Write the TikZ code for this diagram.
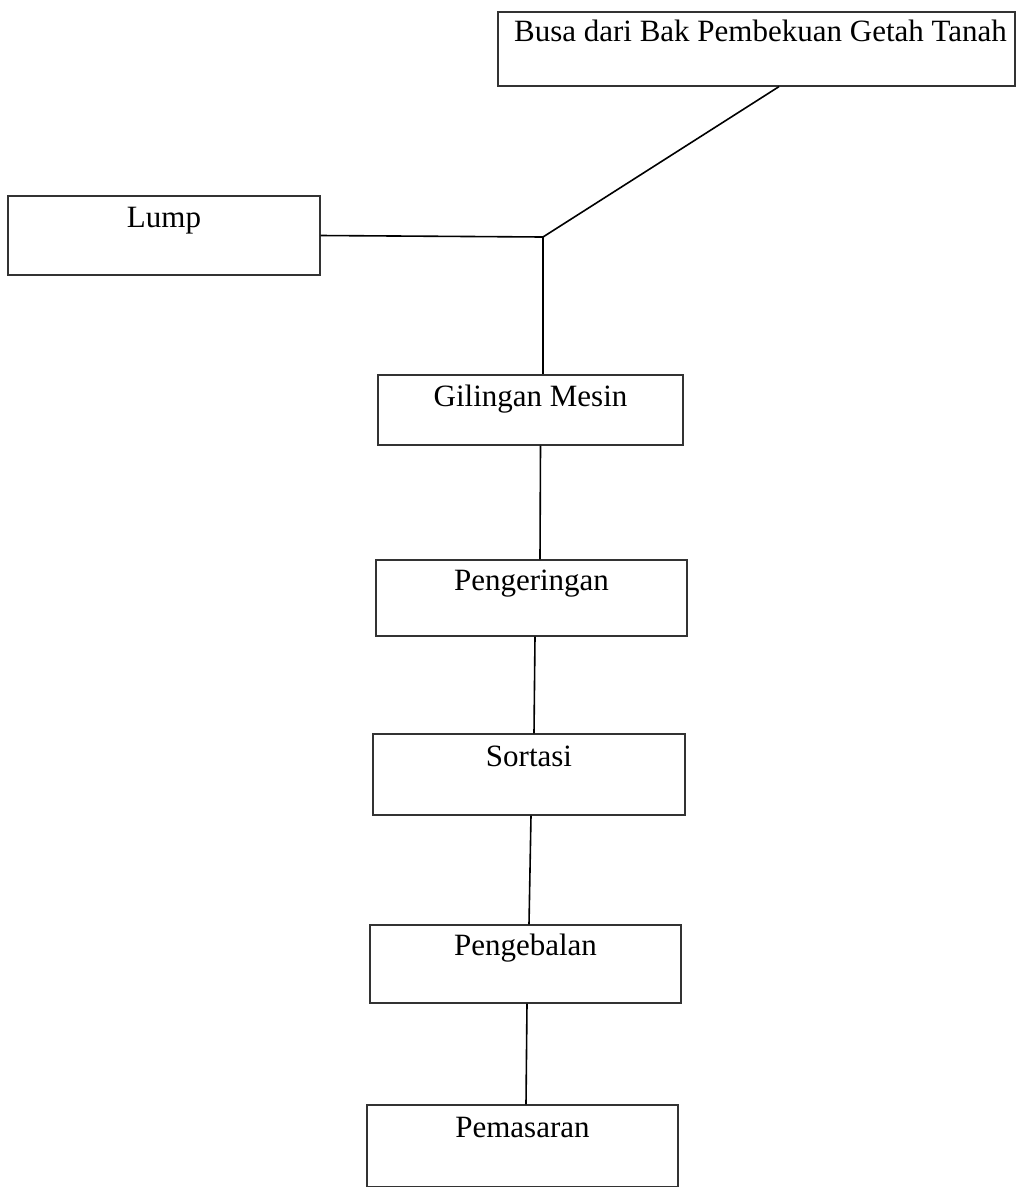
\documentclass[tikz,border=0pt]{standalone}
\usepackage{fontspec}
\setmainfont{Liberation Serif}
\usetikzlibrary{calc}
\tikzset{
  box/.style={draw=black!80, line width=1.2pt, rectangle, inner sep=0pt},
  lbl/.style={anchor=base, inner sep=0pt, font=\fontsize{31}{34}\selectfont},
  link/.style={draw=black, line width=1.6pt}
}
\begin{document}
\begin{tikzpicture}[x=1pt,y=-1pt]
\useasboundingbox[fill=white] (0,0) rectangle (1021,1187);
% boxes
\node[box, minimum width=517pt, minimum height=74pt] (busa) at (756.5,49) {};
\node[box, minimum width=312pt, minimum height=79pt] (lump) at (164,235.5) {};
\node[box, minimum width=305pt, minimum height=70pt] (gil) at (530.5,410) {};
\node[box, minimum width=311pt, minimum height=76pt] (peng) at (531.5,598) {};
\node[box, minimum width=312pt, minimum height=81pt] (sort) at (529,774.5) {};
\node[box, minimum width=311pt, minimum height=78pt] (pgb) at (525.5,964) {};
\node[box, minimum width=311pt, minimum height=82pt] (pms) at (522.5,1146) {};
% labels
\node[lbl] (tbusa) at ($(busa.north)+(4,30)$) {Busa dari Bak Pembekuan Getah Tanah};
\node[lbl] (tlump) at ($(lump.north)+(0,32)$) {Lump};
\node[lbl] (tgil) at ($(gil.north)+(0,32)$) {Gilingan Mesin};
\node[lbl] (tpeng) at ($(peng.north)+(0,31)$) {Pengeringan};
\node[lbl] (tsort) at ($(sort.north)+(0,33)$) {Sortasi};
\node[lbl] (tpgb) at ($(pgb.north)+(0,31)$) {Pengebalan};
\node[lbl] (tpms) at ($(pms.north)+(0,33)$) {Pemasaran};
% connectors
\coordinate (J) at (543,237);
\draw[link] ($(busa.south)+(22.5,0)$) -- (J);
\draw[link] (lump.east) -- (J);
\draw[link] (J) -- (J |- gil.north);
\draw[link] ($(gil.south)+(10,0)$) -- ($(peng.north)+(8.5,0)$);
\draw[link] ($(peng.south)+(3.5,0)$) -- ($(sort.north)+(5,0)$);
\draw[link] ($(sort.south)+(2,0)$) -- ($(pgb.north)+(3.5,0)$);
\draw[link] ($(pgb.south)+(1.5,0)$) -- ($(pms.north)+(3.5,0)$);
\end{tikzpicture}
\end{document}
